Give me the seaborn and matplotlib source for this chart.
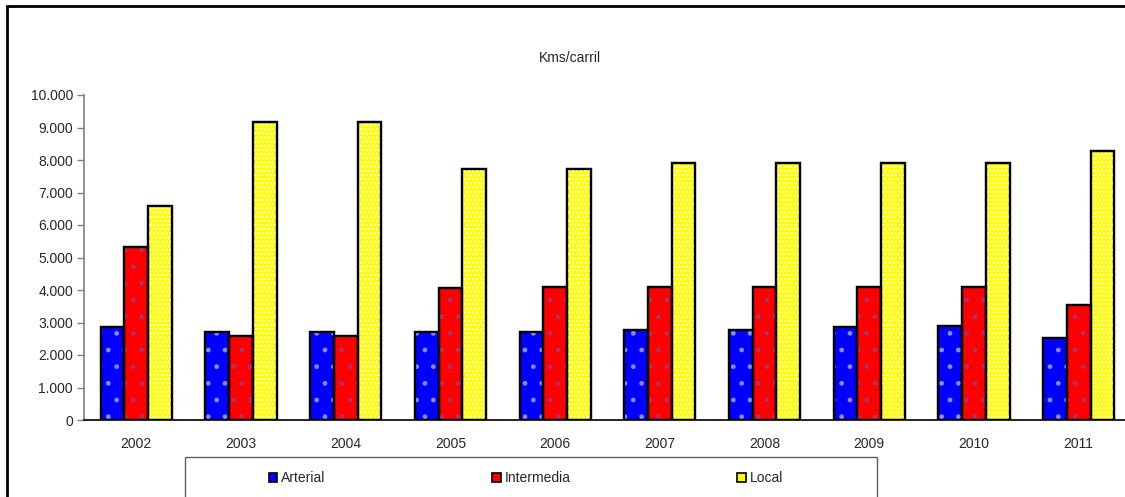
import matplotlib
matplotlib.use("Agg")
import matplotlib.pyplot as plt
from matplotlib.patches import Rectangle
from matplotlib.ticker import FuncFormatter, MultipleLocator, FixedLocator
import seaborn as sns
import pandas as pd

years = ["2002", "2003", "2004", "2005", "2006", "2007", "2008", "2009", "2010", "2011"]
arterial = [2860, 2710, 2710, 2710, 2710, 2780, 2780, 2850, 2890, 2510]
intermedia = [5320, 2580, 2580, 4060, 4100, 4100, 4100, 4100, 4100, 3540]
local = [6580, 9180, 9180, 7720, 7720, 7920, 7920, 7920, 7920, 8290]
series_names = ["Arterial", "Intermedia", "Local"]
series_colors = ["#0000FF", "#FF0000", "#FFFF00"]
hatch_colors = ["#8a8aff", "#b03060", "#ffffff"]
hatch_marks = [".", ".", "...."]

df = pd.DataFrame({
    "Año": years * 3,
    "Serie": [s for s in series_names for _ in years],
    "Kms": arterial + intermedia + local,
})

sns.set_style("white")
plt.rcParams["font.family"] = ["Liberation Sans", "DejaVu Sans"]
plt.rcParams["hatch.linewidth"] = 1.0

fig = plt.figure(figsize=(11.25, 4.97), dpi=100)
ax = fig.add_axes([84 / 1125, 1 - 420 / 497, 1047 / 1125, 325 / 497])

sns.barplot(data=df, x="Año", y="Kms", hue="Serie", hue_order=series_names,
            palette=series_colors, order=years, width=0.68, gap=0,
            edgecolor="black", linewidth=1.6, saturation=1, errorbar=None,
            legend=False, ax=ax, zorder=2)

# light texture on top of each bar
for cont, hc, hm in zip(ax.containers, hatch_colors, hatch_marks):
    for p in cont:
        ax.add_patch(Rectangle((p.get_x(), p.get_y()), p.get_width(), p.get_height(),
                               facecolor="none", edgecolor=hc, linewidth=0,
                               hatch=hm, zorder=2.5))
    for p in cont:
        ax.add_patch(Rectangle((p.get_x(), p.get_y()), p.get_width(), p.get_height(),
                               facecolor="none", edgecolor="black", linewidth=1.6,
                               zorder=2.6))

ax.set_xlim(-0.5, len(years) - 0.5)
ax.set_ylim(0, 10000)
ax.yaxis.set_major_locator(MultipleLocator(1000))
ax.yaxis.set_major_formatter(FuncFormatter(lambda v, _: f"{int(v):,}".replace(",", ".")))
ax.xaxis.set_minor_locator(FixedLocator([i + 0.5 for i in range(-1, len(years))]))
ax.tick_params(axis="x", which="major", length=0, pad=12, labelsize=10)
ax.tick_params(axis="x", which="minor", length=5, width=1, color="black", direction="out")
ax.tick_params(axis="y", which="major", length=5, width=1, color="#808080",
               direction="out", left=True, pad=3, labelsize=10)
ax.set_xlabel("")
ax.set_ylabel("")

for side in ["top", "right"]:
    ax.spines[side].set_visible(False)
ax.spines["left"].set_color("#808080")
ax.spines["left"].set_linewidth(1.2)
ax.spines["bottom"].set_color("black")
ax.spines["bottom"].set_linewidth(1.2)

fig.text(570 / 1125, 1 - 58 / 497, "Kms/carril", ha="center", va="center", fontsize=10)

# outer chart border
fig.patches.append(Rectangle((7 / 1125, -0.1), 1.2, 1 - 6 / 497 + 0.1,
                             transform=fig.transFigure, fill=False,
                             edgecolor="black", linewidth=2.0))

# legend frame
fig.patches.append(Rectangle((185 / 1125, -0.1), (877 - 185) / 1125, 1 - 457 / 497 + 0.1,
                             transform=fig.transFigure, fill=False,
                             edgecolor="#606060", linewidth=1.0))

handles = [Rectangle((0, 0), 1, 1, facecolor=c, edgecolor="black", linewidth=1.2)
           for c in series_colors]
fig.legend(handles, series_names, loc="center", bbox_to_anchor=(526 / 1125, 1 - 478 / 497),
           ncol=3, frameon=False, fontsize=10, handlelength=0.6, handleheight=0.6,
           handletextpad=0.3, columnspacing=12.0, borderaxespad=0)

fig.savefig("out.png", dpi=100)
